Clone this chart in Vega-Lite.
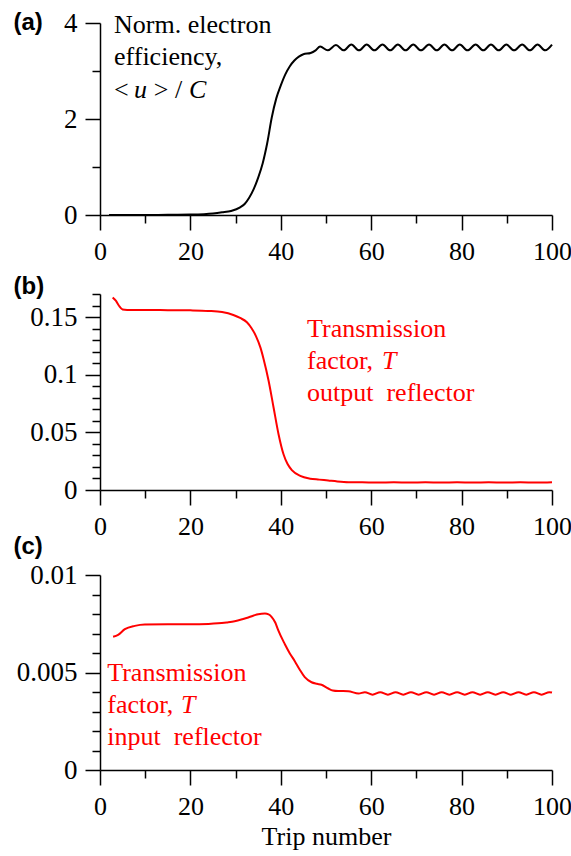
{
  "$schema": "https://vega.github.io/schema/vega-lite/v6.json",
  "padding": {"left": 13, "top": 9, "right": 5, "bottom": 5},
  "background": "white",
  "config": {
    "view": {"stroke": null},
    "axis": {"domainColor": "black", "domainWidth": 1.5, "tickColor": "black", "tickWidth": 1.5, "labelFont": "Liberation Serif", "labelFontSize": 26, "labelColor": "black", "grid": false, "labelOverlap": false, "labelFlush": false, "titleColor": "black"},
    "axisX": {"labelDx": -3},
    "axisY": {"labelFontSize": 27},
    "text": {"font": "Liberation Serif", "fontSize": 26, "align": "left", "baseline": "alphabetic"}
  },
  "datasets": {
    "a": [{"trip":2,"v":0},{"trip":5,"v":0.001},{"trip":10,"v":0.001},{"trip":15,"v":0.003},{"trip":20,"v":0.008},{"trip":23,"v":0.018},{"trip":25,"v":0.032},{"trip":27,"v":0.055},{"trip":29,"v":0.085},{"trip":31,"v":0.16},{"trip":32,"v":0.23},{"trip":33,"v":0.36},{"trip":34,"v":0.54},{"trip":35,"v":0.78},{"trip":36,"v":1.08},{"trip":37,"v":1.5},{"trip":38,"v":2.03},{"trip":39,"v":2.43},{"trip":40,"v":2.7},{"trip":41,"v":2.93},{"trip":42,"v":3.1},{"trip":43,"v":3.22},{"trip":44,"v":3.3},{"trip":45,"v":3.35},{"trip":46.6,"v":3.375},{"trip":47.7,"v":3.43},{"trip":48.7,"v":3.51},{"trip":50.4,"v":3.43},{"trip":52.2,"v":3.54},{"trip":53.9,"v":3.43},{"trip":55.6,"v":3.55},{"trip":57.3,"v":3.43},{"trip":59.0,"v":3.55},{"trip":60.7,"v":3.43},{"trip":62.5,"v":3.55},{"trip":64.2,"v":3.43},{"trip":65.9,"v":3.55},{"trip":67.6,"v":3.43},{"trip":69.3,"v":3.55},{"trip":71.0,"v":3.43},{"trip":72.8,"v":3.55},{"trip":74.5,"v":3.43},{"trip":76.2,"v":3.55},{"trip":77.9,"v":3.43},{"trip":79.6,"v":3.55},{"trip":81.3,"v":3.43},{"trip":83.1,"v":3.55},{"trip":84.8,"v":3.43},{"trip":86.5,"v":3.55},{"trip":88.2,"v":3.43},{"trip":89.9,"v":3.55},{"trip":91.6,"v":3.43},{"trip":93.4,"v":3.55},{"trip":95.1,"v":3.43},{"trip":96.8,"v":3.55},{"trip":98.5,"v":3.43},{"trip":100,"v":3.55}],
    "b": [{"trip":2.8,"v":0.167},{"trip":3.5,"v":0.1642},{"trip":4.2,"v":0.1598},{"trip":5,"v":0.1566},{"trip":6,"v":0.1562},{"trip":10,"v":0.1562},{"trip":15,"v":0.156},{"trip":20,"v":0.1558},{"trip":24,"v":0.1553},{"trip":27,"v":0.1543},{"trip":29.5,"v":0.1518},{"trip":31,"v":0.1492},{"trip":32.5,"v":0.1455},{"trip":33.5,"v":0.1405},{"trip":34.5,"v":0.1335},{"trip":35.5,"v":0.1235},{"trip":36.2,"v":0.1135},{"trip":37.3,"v":0.0948},{"trip":38.4,"v":0.0716},{"trip":39.5,"v":0.0484},{"trip":40.6,"v":0.031},{"trip":41.5,"v":0.0225},{"trip":42.5,"v":0.017},{"trip":44.3,"v":0.0122},{"trip":46.5,"v":0.0098},{"trip":48.5,"v":0.009},{"trip":50.5,"v":0.0082},{"trip":52.5,"v":0.0074},{"trip":55,"v":0.0068},{"trip":58,"v":0.0067},{"trip":61.5,"v":0.0064},{"trip":65,"v":0.0068},{"trip":68.5,"v":0.0064},{"trip":72,"v":0.0068},{"trip":75.5,"v":0.0064},{"trip":79,"v":0.0068},{"trip":82.5,"v":0.0064},{"trip":86,"v":0.0068},{"trip":89.5,"v":0.0064},{"trip":93,"v":0.0068},{"trip":96.5,"v":0.0064},{"trip":100,"v":0.0067}],
    "c": [{"trip":2.9,"v":0.00683},{"trip":4.0,"v":0.00693},{"trip":5.5,"v":0.00722},{"trip":7.7,"v":0.00739},{"trip":9.9,"v":0.00746},{"trip":15,"v":0.00747},{"trip":20,"v":0.00747},{"trip":24,"v":0.00749},{"trip":26.1,"v":0.00752},{"trip":28,"v":0.00757},{"trip":29.8,"v":0.00763},{"trip":31.5,"v":0.00773},{"trip":32.8,"v":0.00782},{"trip":34,"v":0.00792},{"trip":35,"v":0.00799},{"trip":36.5,"v":0.00802},{"trip":37.3,"v":0.00798},{"trip":38.0,"v":0.00784},{"trip":38.8,"v":0.00755},{"trip":39.4,"v":0.00718},{"trip":40.9,"v":0.00645},{"trip":42,"v":0.00598},{"trip":43.1,"v":0.00558},{"trip":44.2,"v":0.00514},{"trip":45.3,"v":0.00476},{"trip":46.8,"v":0.0045},{"trip":48,"v":0.00442},{"trip":49,"v":0.00437},{"trip":50.5,"v":0.00418},{"trip":51.5,"v":0.00408},{"trip":52.7,"v":0.00405},{"trip":54.9,"v":0.00404},{"trip":57.2,"v":0.00392},{"trip":58.6,"v":0.00399},{"trip":60.3,"v":0.00386},{"trip":62.0,"v":0.00399},{"trip":63.7,"v":0.00386},{"trip":65.4,"v":0.00399},{"trip":67.1,"v":0.00386},{"trip":68.8,"v":0.00399},{"trip":70.5,"v":0.00386},{"trip":72.2,"v":0.00399},{"trip":73.9,"v":0.00386},{"trip":75.6,"v":0.00399},{"trip":77.3,"v":0.00386},{"trip":79.0,"v":0.00399},{"trip":80.7,"v":0.00386},{"trip":82.4,"v":0.00399},{"trip":84.1,"v":0.00386},{"trip":85.8,"v":0.00399},{"trip":87.5,"v":0.00386},{"trip":89.2,"v":0.00399},{"trip":90.9,"v":0.00386},{"trip":92.6,"v":0.00399},{"trip":94.3,"v":0.00386},{"trip":96.0,"v":0.00399},{"trip":97.7,"v":0.00386},{"trip":99.4,"v":0.00399},{"trip":100,"v":0.00397}],
    "a_text": [{"trip":3.1,"v":3.79,"t":"Norm. electron"},{"trip":3.1,"v":3.119,"t":"efficiency,"},{"trip":3.1,"v":2.444,"t":"<"},{"trip":11.9,"v":2.444,"t":"> /"}],
    "a_italic": [{"trip":7.5,"v":2.444,"t":"u"},{"trip":19.7,"v":2.444,"t":"C"}],
    "b_text": [{"trip":45.8,"v":0.1324,"t":"Transmission"},{"trip":45.8,"v":0.105,"t":"factor,"},{"trip":45.8,"v":0.0774,"t":"output\u00a0 reflector"}],
    "b_italic": [{"trip":62.4,"v":0.105,"t":"T"}],
    "c_text": [{"trip":1.6,"v":0.00454,"t":"Transmission"},{"trip":1.6,"v":0.00291,"t":"factor,"},{"trip":1.6,"v":0.0013,"t":"input\u00a0 reflector"}],
    "c_italic": [{"trip":17.9,"v":0.00291,"t":"T"}]
  },
  "bounds": "flush",
  "spacing": 79,
  "vconcat": [
    {
      "width": 452, "height": 192,
      "encoding": {
        "x": {"field": "trip", "type": "quantitative", "scale": {"domain": [0, 100], "nice": false},
              "axis": {"values": [0,10,20,30,40,50,60,70,80,90,100], "tickSize": {"condition": {"test": "datum.value % 20 === 0", "value": 15}, "value": 8}, "labelExpr": "datum.value % 20 === 0 ? datum.label : ''", "title": null, "labelPadding": 8}},
        "y": {"field": "v", "type": "quantitative", "scale": {"domain": [0, 4], "nice": false},
              "axis": {"values": [0,1,2,3,4], "tickSize": {"condition": {"test": "datum.value % 2 === 0", "value": 15}, "value": 8}, "labelExpr": "datum.value % 2 === 0 ? datum.label : ''", "labelPadding": 8,
                       "title": "(a)", "titleFont": "Liberation Sans", "titleFontWeight": "bold", "titleFontSize": 24, "titleAngle": 0, "titleX": -87, "titleY": 6, "titleAlign": "left", "titleBaseline": "alphabetic"}}
      },
      "layer": [
        {"data": {"name": "a"}, "mark": {"type": "line", "color": "black", "strokeWidth": 2, "interpolate": "monotone"}},
        {"data": {"name": "a_text"}, "mark": {"type": "text", "color": "black"}, "encoding": {"text": {"field": "t"}}},
        {"data": {"name": "a_italic"}, "mark": {"type": "text", "color": "black", "fontStyle": "italic"}, "encoding": {"text": {"field": "t"}}}
      ]
    },
    {
      "bounds": "flush",
      "spacing": 85,
      "vconcat": [
        {
          "width": 452, "height": 196,
          "encoding": {
            "x": {"field": "trip", "type": "quantitative", "scale": {"domain": [0, 100], "nice": false},
                  "axis": {"values": [0,10,20,30,40,50,60,70,80,90,100], "tickSize": {"condition": {"test": "datum.value % 20 === 0", "value": 15}, "value": 8}, "labelExpr": "datum.value % 20 === 0 ? datum.label : ''", "title": null, "labelPadding": 8}},
            "y": {"field": "v", "type": "quantitative", "scale": {"domain": [0, 0.17], "nice": false},
                  "axis": {"values": [0,0.01,0.02,0.03,0.04,0.05,0.06,0.07,0.08,0.09,0.1,0.11,0.12,0.13,0.14,0.15,0.16,0.17], "format": "~g", "tickSize": {"condition": {"test": "round(datum.value*100) % 5 === 0", "value": 15}, "value": 8}, "labelExpr": "round(datum.value*100) % 5 === 0 ? datum.label : ''", "labelPadding": 8,
                           "title": "(b)", "titleFont": "Liberation Sans", "titleFontWeight": "bold", "titleFontSize": 24, "titleAngle": 0, "titleX": -87, "titleY": -1, "titleAlign": "left", "titleBaseline": "alphabetic"}}
          },
          "layer": [
            {"data": {"name": "b"}, "mark": {"type": "line", "color": "#ff0000", "strokeWidth": 2, "interpolate": "monotone"}},
            {"data": {"name": "b_text"}, "mark": {"type": "text", "color": "#ff0000"}, "encoding": {"text": {"field": "t"}}},
            {"data": {"name": "b_italic"}, "mark": {"type": "text", "color": "#ff0000", "fontStyle": "italic"}, "encoding": {"text": {"field": "t"}}}
          ]
        },
        {
          "width": 452, "height": 195,
          "encoding": {
            "x": {"field": "trip", "type": "quantitative", "scale": {"domain": [0, 100], "nice": false},
                  "axis": {"values": [0,10,20,30,40,50,60,70,80,90,100], "tickSize": {"condition": {"test": "datum.value % 20 === 0", "value": 15}, "value": 8}, "labelExpr": "datum.value % 20 === 0 ? datum.label : ''", "labelPadding": 8,
                           "title": "Trip number", "titleFont": "Liberation Serif", "titleFontSize": 26, "titleFontWeight": "normal", "titleX": 226, "titleY": 74, "titleAlign": "center", "titleBaseline": "alphabetic"}},
            "y": {"field": "v", "type": "quantitative", "scale": {"domain": [0, 0.01], "nice": false},
                  "axis": {"values": [0,0.001,0.002,0.003,0.004,0.005,0.006,0.007,0.008,0.009,0.01], "format": "~g", "tickSize": {"condition": {"test": "round(datum.value*1000) % 5 === 0", "value": 15}, "value": 8}, "labelExpr": "round(datum.value*1000) % 5 === 0 ? datum.label : ''", "labelPadding": 8,
                           "title": "(c)", "titleFont": "Liberation Sans", "titleFontWeight": "bold", "titleFontSize": 24, "titleAngle": 0, "titleX": -87, "titleY": -22, "titleAlign": "left", "titleBaseline": "alphabetic"}}
          },
          "layer": [
            {"data": {"name": "c"}, "mark": {"type": "line", "color": "#ff0000", "strokeWidth": 2, "interpolate": "monotone"}},
            {"data": {"name": "c_text"}, "mark": {"type": "text", "color": "#ff0000"}, "encoding": {"text": {"field": "t"}}},
            {"data": {"name": "c_italic"}, "mark": {"type": "text", "color": "#ff0000", "fontStyle": "italic"}, "encoding": {"text": {"field": "t"}}}
          ]
        }
      ]
    }
  ]
}
